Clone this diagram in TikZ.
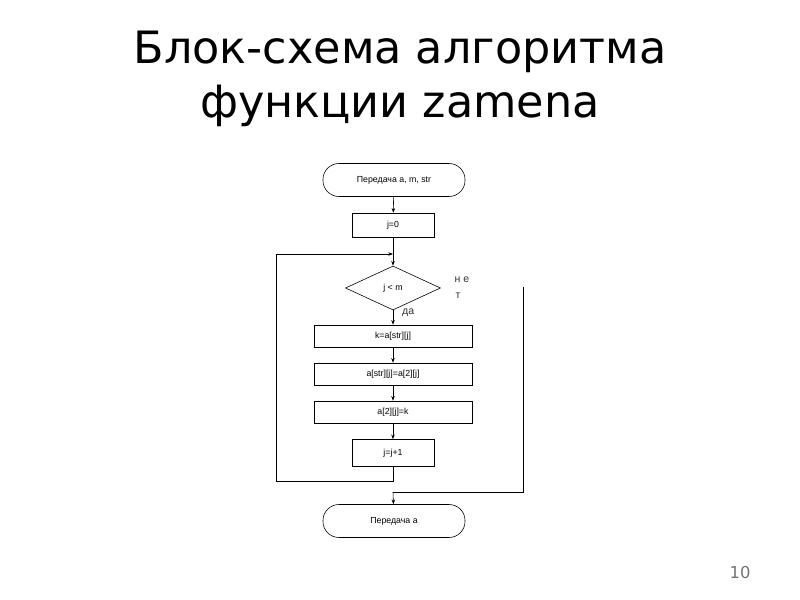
\documentclass[tikz,border=0pt]{standalone}
\usepackage{fontspec}
\setmainfont{DejaVu Sans}
\newfontfamily\chartfont{Liberation Sans}
\usetikzlibrary{shapes.geometric,arrows.meta}

\tikzset{
	terminal/.style={draw, rounded corners=0.48cm, minimum width=4.26cm, minimum height=0.99cm, font=\chartfont\fontsize{7.5}{8}\selectfont},
	process/.style={draw, minimum width=4.74cm, minimum height=0.66cm, inner sep=1pt, font=\chartfont\fontsize{7.5}{8}\selectfont},
	decision/.style={draw, diamond, aspect=2.16, minimum width=2.85cm, minimum height=1.32cm, inner sep=0pt, font=\chartfont\fontsize{7.5}{8}\selectfont},
	flow/.style={-{Stealth[length=4pt,width=3pt]}, line width=0.5pt},
	label/.style={font=\chartfont\fontsize{9}{10}\selectfont, text=black!80}
}

\begin{document}
\begin{tikzpicture}[x=0.03cm, y=-0.03cm, line width=0.5pt]
	\useasboundingbox (0,0) rectangle (800,600);
	% title
	\node[align=center, font=\fontsize{38}{46}\selectfont] (title) at (400,79) {Блок-схема алгоритма\\функции zamena};
	% flowchart
	\node[terminal] (start) at (394,180) {Передача a, m, str};
	\node[process, minimum width=2.46cm, minimum height=0.72cm] (init) at (393,225) {j=0};
	\node[decision] (cond) at (393,288) {j < m};
	\node[process] (swapa) at (393,336) {k=a[str][j]};
	\node[process] (swapb) at (393,374) {a[str][j]=a[2][j]};
	\node[process] (swapc) at (393,412) {a[2][j]=k};
	\node[process, minimum width=2.46cm, minimum height=0.81cm] (incr) at (393,453) {j=j+1};
	\node[terminal] (stop) at (394,521) {Передача a};
	\node[label] (no1) at (462,280) {н е};
	\node[label] (no2) at (458,296) {т};
	\node[label, anchor=west] (yes) at (398,313) {да};
	\coordinate (loop) at (393,254);
	\coordinate (exit) at (523,287);
	\coordinate (join) at (393,492);
	\draw[flow] (start) -- (init);
	\draw (init) -- (loop);
	\draw[flow] (loop) -- (cond);
	\draw[flow] (cond) -- (swapa);
	\draw[flow] (swapa) -- (swapb);
	\draw[flow] (swapb) -- (swapc);
	\draw[flow] (swapc) -- (incr);
	\draw[flow] (incr.south) -- ++(0,15) -| (276,254) -- (loop);
	\draw (exit) |- (join);
	\draw[flow] (join) -- (stop);
	% page number
	\node[font=\fontsize{14}{16}\selectfont, text=black!55] (page) at (740,573) {10};
\end{tikzpicture}
\end{document}
